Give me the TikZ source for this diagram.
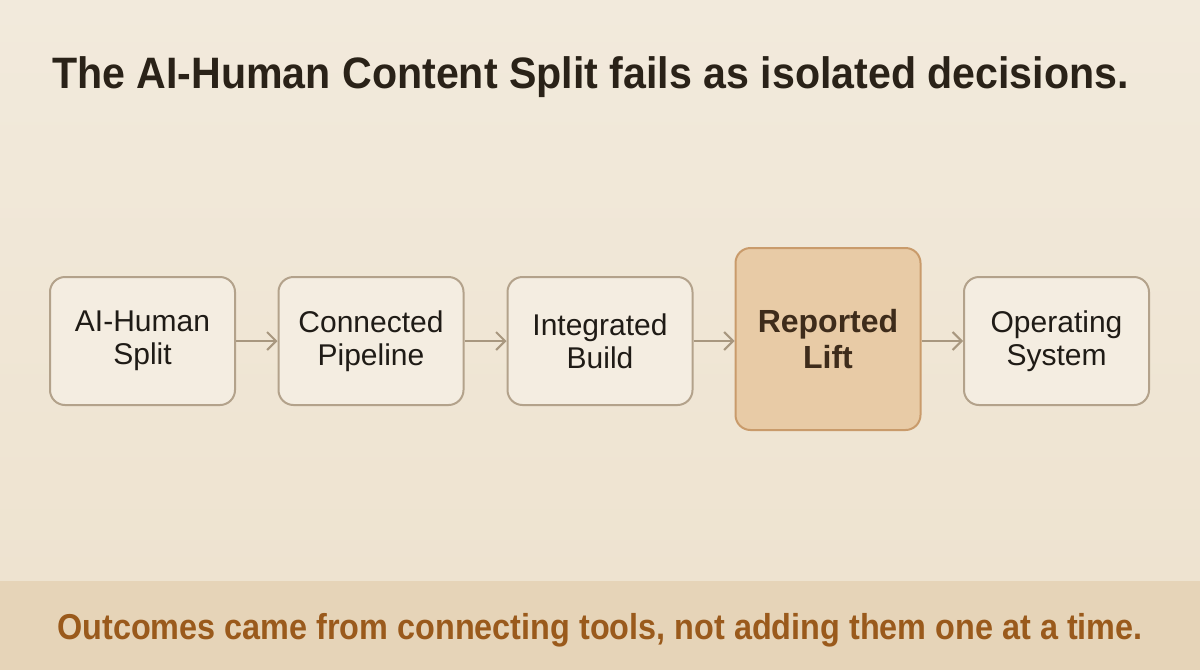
\documentclass[tikz,border=0pt]{standalone}
\usepackage{fontspec}
\setmainfont{Liberation Sans}
\usetikzlibrary{arrows.meta}
\definecolor{bgtop}{HTML}{F2EADC}
\definecolor{bgbot}{HTML}{EEE3D0}
\definecolor{band}{HTML}{E6D4B8}
\definecolor{boxfill}{HTML}{F4EDE1}
\definecolor{boxline}{HTML}{B3A28B}
\definecolor{hifill}{HTML}{E8CBA6}
\definecolor{hiline}{HTML}{C99B6B}
\definecolor{ink}{HTML}{1F1B16}
\definecolor{hiink}{HTML}{3E2C1B}
\definecolor{titleink}{HTML}{2A2218}
\definecolor{footink}{HTML}{9A5A1C}
\definecolor{arrowc}{HTML}{A8977F}
\tikzset{
  stagebox/.style={draw=boxline, line width=2pt, fill=boxfill, rounded corners=15pt,
    minimum width=185pt, minimum height=128pt, align=center, text=ink,
    font=\fontsize{30}{33}\selectfont},
  hibox/.style={stagebox, draw=hiline, fill=hifill, minimum height=182pt, text=hiink,
    font=\fontsize{32}{36}\bfseries\selectfont},
  flow/.style={draw=arrowc, line width=2pt, -{Straight Barb[length=9pt,width=18pt,line width=2pt]}}
}
\begin{document}
\begin{tikzpicture}[x=1pt,y=-1pt]
\useasboundingbox (0,0) rectangle (1200,670);
\shade[top color=bgtop, bottom color=bgbot] (0,0) rectangle (1200,581);
\fill[band] (0,581) rectangle (1200,670);
\node[anchor=base west, text=titleink, font=\fontsize{44}{50}\bfseries\selectfont, inner sep=0pt] (title) at (52,88) {\scalebox{0.935}[1]{The AI-Human Content Split fails as isolated decisions.}};
\node[stagebox] (s1) at (142.5,341) {AI-Human\\Split};
\node[stagebox] (s2) at (371,341) {Connected\\Pipeline};
\node[stagebox] (s3) at (600,341) {Integrated\\Build};
\node[hibox] (s4) at (828,339) {Reported\\Lift};
\node[stagebox] (s5) at (1056.5,341) {Operating\\System};
\draw[flow] (s1.east) -- (s2.west);
\draw[flow] (s2.east) -- (s3.west);
\draw[flow] (s3.east) -- (s4.west |- s3.east);
\draw[flow] (s4.east |- s5.west) -- (s5.west);
\node[anchor=base, text=footink, font=\fontsize{36}{40}\bfseries\selectfont, inner sep=0pt] (foot) at (600,639) {\scalebox{0.9}[1]{Outcomes came from connecting tools, not adding them one at a time.}};
\end{tikzpicture}
\end{document}
